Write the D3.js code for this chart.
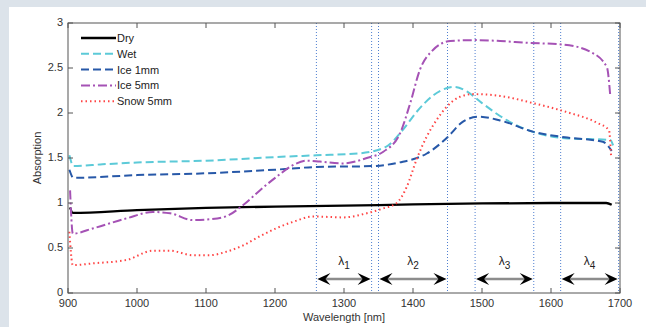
<!DOCTYPE html>
<html lang="en">
  <head>
    <meta charset="utf-8" />
    <script src="https://d3js.org/d3.v7.min.js"></script>
    <style>
      body { margin: 0; background: #dce3ea; }
      text { font-family: "Liberation Sans", Arial, sans-serif; }
    </style>
  </head>
  <body>
    <div id="chart"></div>
    <script>
      // ---- data ----
      var dryX = [903, 907, 1000, 1100, 1200, 1300, 1400, 1500, 1600, 1680, 1688];
      var dryY = [0.95, 0.89, 0.92, 0.945, 0.96, 0.97, 0.985, 0.995, 1.0, 1.0, 0.98];

      var wetX = [902, 908, 950, 1000, 1100, 1200, 1260, 1320, 1360, 1385, 1405, 1430, 1460, 1478, 1500, 1536, 1574, 1620, 1686, 1690];
      var wetY = [1.53, 1.41, 1.43, 1.45, 1.47, 1.51, 1.53, 1.55, 1.62, 1.81, 2.01, 2.2, 2.29, 2.24, 2.11, 1.92, 1.79, 1.72, 1.7, 1.64];

      var ice1X = [902, 908, 1000, 1100, 1200, 1260, 1340, 1380, 1420, 1450, 1470, 1495, 1525, 1575, 1620, 1675, 1688];
      var ice1Y = [1.37, 1.28, 1.31, 1.33, 1.37, 1.4, 1.41, 1.45, 1.55, 1.73, 1.89, 1.96, 1.92, 1.79, 1.73, 1.68, 1.58];

      var ice5X = [903, 907, 937, 985, 1023, 1048, 1081, 1106, 1130, 1154, 1178, 1202, 1226, 1246, 1265, 1299, 1333, 1357, 1381, 1396, 1410, 1429, 1454, 1492, 1526, 1565, 1618, 1657, 1681, 1686];
      var ice5Y = [1.14, 0.66, 0.72, 0.83, 0.9, 0.886, 0.81, 0.82, 0.855, 0.978, 1.14, 1.29, 1.42, 1.47, 1.46, 1.44, 1.5, 1.57, 1.77, 2.11, 2.48, 2.7, 2.8, 2.81, 2.8, 2.78, 2.76, 2.68, 2.51, 2.18];

      var snowX = [902, 907, 937, 985, 1023, 1048, 1081, 1106, 1130, 1154, 1178, 1202, 1226, 1255, 1299, 1333, 1357, 1376, 1391, 1405, 1420, 1434, 1449, 1468, 1488, 1526, 1574, 1623, 1667, 1684, 1687];
      var snowY = [0.68, 0.31, 0.33, 0.367, 0.47, 0.47, 0.42, 0.42, 0.46, 0.53, 0.63, 0.72, 0.79, 0.85, 0.84, 0.886, 0.94, 0.997, 1.18, 1.48, 1.74, 1.92, 2.07, 2.18, 2.21, 2.19, 2.11, 2.01, 1.89, 1.81, 1.53];

      var seriesNames = ["Dry", "Wet", "Ice 1mm", "Ice 5mm", "Snow 5mm"];

      // wavelength bands (start, end)
      var bandStart = [1260, 1350, 1490, 1614];
      var bandEnd = [1340, 1450, 1575, 1698];
      var bandLabels = ["1", "2", "3", "4"];

      var xTicks = [900, 1000, 1100, 1200, 1300, 1400, 1500, 1600, 1700];
      var yTicks = [0, 0.5, 1, 1.5, 2, 2.5, 3];

      // ---- layout ----
      var W = 646, H = 327;
      var margin = { top: 23, right: 26, bottom: 34, left: 68 };
      var width = W - margin.left - margin.right,
        height = H - margin.top - margin.bottom;

      var svgRoot = d3.select("#chart").append("svg")
        .attr("width", W).attr("height", H);

      svgRoot.append("rect").attr("width", W).attr("height", H).attr("fill", "#dce3ea");
      svgRoot.append("rect").attr("x", 9).attr("y", 7)
        .attr("width", W - 9).attr("height", H - 7).attr("fill", "#ffffff");

      var svg = svgRoot.append("g")
        .attr("transform", "translate(" + margin.left + "," + margin.top + ")");

      var x = d3.scaleLinear().domain([900, 1700]).range([0, width]);
      var y = d3.scaleLinear().domain([0, 3]).range([height, 0]);

      // dotted band borders
      var edges = bandStart.concat(bandEnd);
      svg.append("g").selectAll("line").data(edges).enter().append("line")
        .attr("x1", d => x(d)).attr("x2", d => x(d))
        .attr("y1", 0).attr("y2", height)
        .attr("stroke", "#4f7fd0").attr("stroke-width", 1)
        .attr("stroke-dasharray", "1,2");

      // series
      var series = [
        { name: seriesNames[0], xs: dryX, ys: dryY, color: "#000000", dash: null, w: 2.3 },
        { name: seriesNames[1], xs: wetX, ys: wetY, color: "#5ccad8", dash: "8,4", w: 2 },
        { name: seriesNames[2], xs: ice1X, ys: ice1Y, color: "#2758a8", dash: "8,4", w: 2 },
        { name: seriesNames[3], xs: ice5X, ys: ice5Y, color: "#a552b5", dash: "9,3,2,3", w: 2 },
        { name: seriesNames[4], xs: snowX, ys: snowY, color: "#ff4545", dash: "1.5,3", w: 2 }
      ];

      var line = d3.line()
        .x(d => x(d[0])).y(d => y(d[1]))
        .curve(d3.curveMonotoneX);

      series.forEach(function (s) {
        var pts = s.xs.map((v, i) => [v, s.ys[i]]);
        svg.append("path").datum(pts)
          .attr("d", line)
          .attr("fill", "none")
          .attr("stroke", s.color)
          .attr("stroke-width", s.w)
          .attr("stroke-dasharray", s.dash);
      });

      // axes box with inward ticks (matlab style)
      var axisColor = "#555";
      svg.append("rect").attr("width", width).attr("height", height)
        .attr("fill", "none").attr("stroke", axisColor).attr("stroke-width", 1);

      var ticks = svg.append("g").attr("stroke", axisColor);
      xTicks.forEach(function (t) {
        ticks.append("line").attr("x1", x(t)).attr("x2", x(t)).attr("y1", height).attr("y2", height - 5);
        ticks.append("line").attr("x1", x(t)).attr("x2", x(t)).attr("y1", 0).attr("y2", 5);
      });
      yTicks.forEach(function (t) {
        ticks.append("line").attr("y1", y(t)).attr("y2", y(t)).attr("x1", 0).attr("x2", 5);
        ticks.append("line").attr("y1", y(t)).attr("y2", y(t)).attr("x1", width).attr("x2", width - 5);
      });

      svg.append("g").selectAll("text").data(xTicks).enter().append("text")
        .attr("x", d => x(d)).attr("y", height + 14)
        .attr("text-anchor", "middle").attr("font-size", 11).attr("fill", "#333")
        .text(d => d);
      svg.append("g").selectAll("text").data(yTicks).enter().append("text")
        .attr("x", -5).attr("y", d => y(d) + 3)
        .attr("text-anchor", "end").attr("font-size", 11).attr("fill", "#333")
        .text(d => d);

      // axis titles
      svg.append("text").attr("x", width / 2).attr("y", height + 28)
        .attr("text-anchor", "middle").attr("font-size", 11).attr("fill", "#333")
        .text("Wavelength [nm]");
      svg.append("text")
        .attr("transform", "translate(-27," + height / 2 + ") rotate(-90)")
        .attr("text-anchor", "middle").attr("font-size", 11).attr("fill", "#333")
        .text("Absorption");

      // band arrows
      var arrowY = y(0.155);
      function head(px, dir) {
        // concave arrowhead pointing in dir (+1 right, -1 left)
        var L = 13, h = 6;
        return "M" + px + "," + arrowY +
          " L" + (px - dir * L) + "," + (arrowY - h) +
          " L" + (px - dir * (L - 5)) + "," + arrowY +
          " L" + (px - dir * L) + "," + (arrowY + h) + " Z";
      }
      var bands = svg.append("g");
      bandStart.forEach(function (b, i) {
        var x0 = x(b) + 1, x1 = x(bandEnd[i]) - 1;
        bands.append("line").attr("x1", x0 + 6).attr("x2", x1 - 6)
          .attr("y1", arrowY).attr("y2", arrowY)
          .attr("stroke", "#8c8c8c").attr("stroke-width", 2.5);
        bands.append("path").attr("d", head(x0, -1)).attr("fill", "#000");
        bands.append("path").attr("d", head(x1, 1)).attr("fill", "#000");
        var lbl = bands.append("text")
          .attr("x", (x0 + x1) / 2).attr("y", y(0.31))
          .attr("text-anchor", "middle").attr("font-size", 12).attr("fill", "#222");
        lbl.append("tspan").text("\u03bb");
        lbl.append("tspan").attr("dy", 4).attr("font-size", 10).text(bandLabels[i]);
      });

      // legend
      var legend = svg.append("g").attr("transform", "translate(13,15)");
      series.forEach(function (s, i) {
        var g = legend.append("g").attr("transform", "translate(0," + i * 15.8 + ")");
        g.append("line").attr("x1", 0).attr("x2", 35).attr("y1", 0).attr("y2", 0)
          .attr("stroke", s.color).attr("stroke-width", s.w)
          .attr("stroke-dasharray", s.dash);
        g.append("text").attr("x", 36).attr("y", 4)
          .attr("font-size", 11).attr("fill", "#222").text(s.name);
      });
    </script>
  </body>
</html>
